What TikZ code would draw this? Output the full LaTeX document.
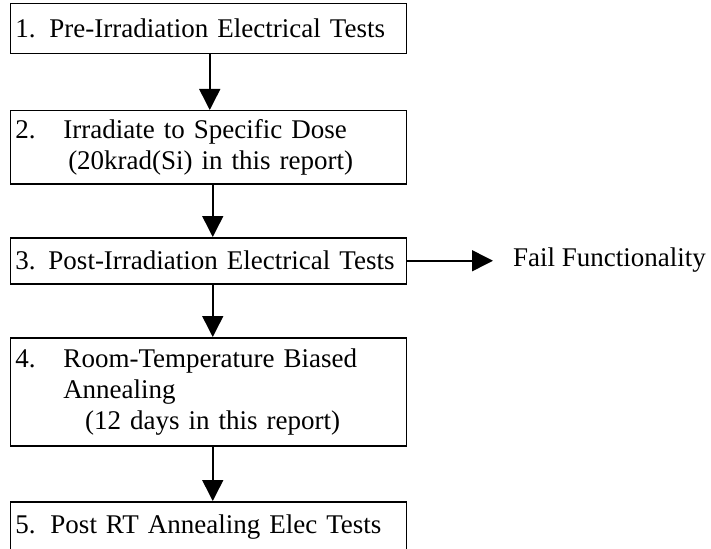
\documentclass[tikz,border=0pt]{standalone}
\usepackage{fontspec}
\setmainfont{Liberation Serif}
\usetikzlibrary{arrows.meta}
\begin{document}
\begin{tikzpicture}[x=1pt,y=-1pt,
  box/.style={draw,line width=1.5pt,anchor=north west,text width=386pt,inner xsep=5pt,inner ysep=0pt,align=left,font=\fontsize{27}{31}\selectfont},
  lbl/.style={anchor=west,inner sep=0pt,font=\fontsize{27}{31}\selectfont},
  arr/.style={line width=1.5pt,-{Triangle[length=21pt,width=21pt]}}]
\useasboundingbox (0,0) rectangle (711,548);
\node[box,minimum height=50pt] (b1) at (9.5,3) {1.\hspace{14pt}Pre-Irradiation Electrical Tests};
\node[box,minimum height=73pt] (b2) at (9.5,110) {2.\hspace{28pt}Irradiate to Specific Dose\\\hspace*{53pt}(20krad(Si) in this report)};
\node[box,minimum height=46pt] (b3) at (9.5,237) {3.\hspace{13pt}Post-Irradiation Electrical Tests};
\node[box,minimum height=108pt] (b4) at (9.5,337) {4.\hspace{28pt}Room-Temperature Biased\\\hspace*{48pt}Annealing\\\hspace*{70pt}(12 days in this report)};
\node[box,minimum height=50pt] (b5) at (9.5,501) {5.\hspace{15pt}Post RT Annealing Elec Tests};
\node[lbl] (ff) at (513,260) {Fail Functionality};
\draw[arr] ([xshift=1.5pt]b1.south) -- ([xshift=1.5pt]b2.north);
\draw[arr] ([xshift=4.5pt]b2.south) -- ([xshift=4.5pt]b3.north);
\draw[arr] ([xshift=4.5pt]b3.south) -- ([xshift=4.5pt]b4.north);
\draw[arr] ([xshift=4.5pt]b4.south) -- ([xshift=4.5pt]b5.north);
\draw[arr,shorten >=20pt] (b3.east) -- (b3.east -| ff.west);
\end{tikzpicture}
\end{document}
